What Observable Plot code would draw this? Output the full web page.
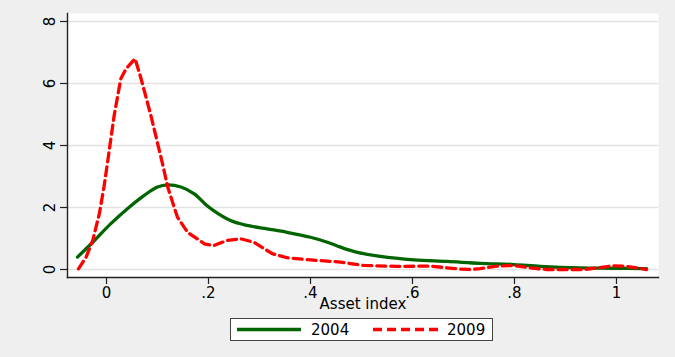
<!DOCTYPE html>
<html><head><meta charset="utf-8">
<script src="https://cdn.jsdelivr.net/npm/d3@7"></script>
<script src="https://cdn.jsdelivr.net/npm/@observablehq/plot@0.6"></script>
<style>
html,body{margin:0;padding:0;background:#efefef;}
#wrap{position:relative;width:675px;height:357px;background:#efefef;font-family:"DejaVu Sans",sans-serif;}
#wrap svg{display:block;}
#legend{position:absolute;left:230px;top:318px;}
</style></head>
<body><div id="wrap"></div>
<script>
const x2004 = [-0.057,-0.027,0.008,0.041,0.074,0.100,0.120,0.146,0.172,0.195,0.210,0.243,0.276,0.315,0.354,0.400,0.433,0.459,0.490,0.537,0.603,0.668,0.733,0.799,0.851,0.929,0.995,1.059];
const y2004 = [0.40,0.88,1.47,1.96,2.39,2.66,2.73,2.66,2.44,2.09,1.90,1.58,1.42,1.31,1.20,1.04,0.88,0.72,0.56,0.42,0.31,0.26,0.20,0.16,0.10,0.05,0.04,0.03];
const x2009 = [-0.055,-0.040,-0.027,-0.014,-0.005,0.002,0.015,0.028,0.038,0.056,0.067,0.087,0.110,0.120,0.139,0.159,0.192,0.210,0.237,0.263,0.289,0.325,0.354,0.400,0.459,0.505,0.570,0.635,0.688,0.714,0.733,0.766,0.799,0.831,0.864,0.903,0.936,0.962,0.992,1.014,1.041,1.059];
const y2009 = [0.02,0.40,0.94,1.80,2.66,3.45,4.97,6.15,6.47,6.80,6.20,4.97,3.40,2.66,1.69,1.20,0.83,0.77,0.94,0.99,0.88,0.51,0.38,0.31,0.24,0.13,0.10,0.11,0.02,0.00,0.03,0.11,0.13,0.05,0.00,0.00,0.00,0.05,0.12,0.11,0.05,0.00];
const xTicks = [0, 0.2, 0.4, 0.6, 0.8, 1];
const xTickLabels = ["0", ".2", ".4", ".6", ".8", "1"];
const yTicks = [0, 2, 4, 6, 8];
const seriesNames = ["2004", "2009"];
const xTitle = "Asset index";

const d2004 = x2004.map((x, i) => ({x, y: y2004[i]}));
const d2009 = x2009.map((x, i) => ({x, y: y2009[i]}));

const GREEN = "#006400", RED = "#ff0000";

const chart = Plot.plot({
  width: 675, height: 357,
  marginTop: 13, marginBottom: 80, marginLeft: 67, marginRight: 17,
  style: {background: "transparent", fontFamily: "DejaVu Sans, sans-serif", fontSize: "15px", color: "#000", overflow: "visible"},
  x: {domain: [-0.0765, 1.0824]},
  y: {domain: [-0.258, 8.258]},
  marks: [
    Plot.frame({fill: "white", stroke: null}),
    Plot.gridY(yTicks, {stroke: "#e3e3e3", strokeOpacity: 1, strokeWidth: 1.5}),
    Plot.axisY(yTicks, {tickSize: 7, tickRotate: -90, tickPadding: 6, label: null, stroke: "#222", strokeWidth: 1.2}),
    Plot.axisX(xTicks, {tickSize: 7, tickPadding: 3, tickFormat: (d, i) => xTickLabels[i], label: null, stroke: "#222", strokeWidth: 1.2}),
    Plot.frame({anchor: "left", stroke: "#222", strokeWidth: 1.4}),
    Plot.frame({anchor: "bottom", stroke: "#222", strokeWidth: 1.4}),
    Plot.text([xTitle], {frameAnchor: "bottom", lineAnchor: "top", dy: 21, fontSize: 15, fill: "#000"}),
    Plot.line(d2004, {x: "x", y: "y", stroke: GREEN, strokeWidth: 3.3, curve: "catmull-rom"}),
    Plot.line(d2009, {x: "x", y: "y", stroke: RED, strokeWidth: 3.3, strokeDasharray: "9,5"})
  ]
});
const wrap = document.getElementById("wrap");
wrap.appendChild(chart);

// legend
const leg = d3.select(wrap).append("div").attr("id", "legend")
  .append("svg").attr("width", 264).attr("height", 24);
leg.append("rect").attr("x", 0.5).attr("y", 0.5).attr("width", 262).attr("height", 22)
  .attr("fill", "white").attr("stroke", "#444").attr("stroke-width", 1);
const items = [{name: seriesNames[0], color: GREEN, dash: null, x0: 7, x1: 71, tx: 81},
               {name: seriesNames[1], color: RED, dash: "9,5", x0: 143, x1: 209, tx: 217}];
for (const it of items) {
  leg.append("line").attr("x1", it.x0).attr("x2", it.x1).attr("y1", 11.5).attr("y2", 11.5)
    .attr("stroke", it.color).attr("stroke-width", 3.3).attr("stroke-dasharray", it.dash);
  leg.append("text").attr("x", it.tx).attr("y", 11.5).attr("dy", "0.36em")
    .attr("font-family", "DejaVu Sans, sans-serif").attr("font-size", 15).attr("fill", "#000").text(it.name);
}
</script>
</body></html>
